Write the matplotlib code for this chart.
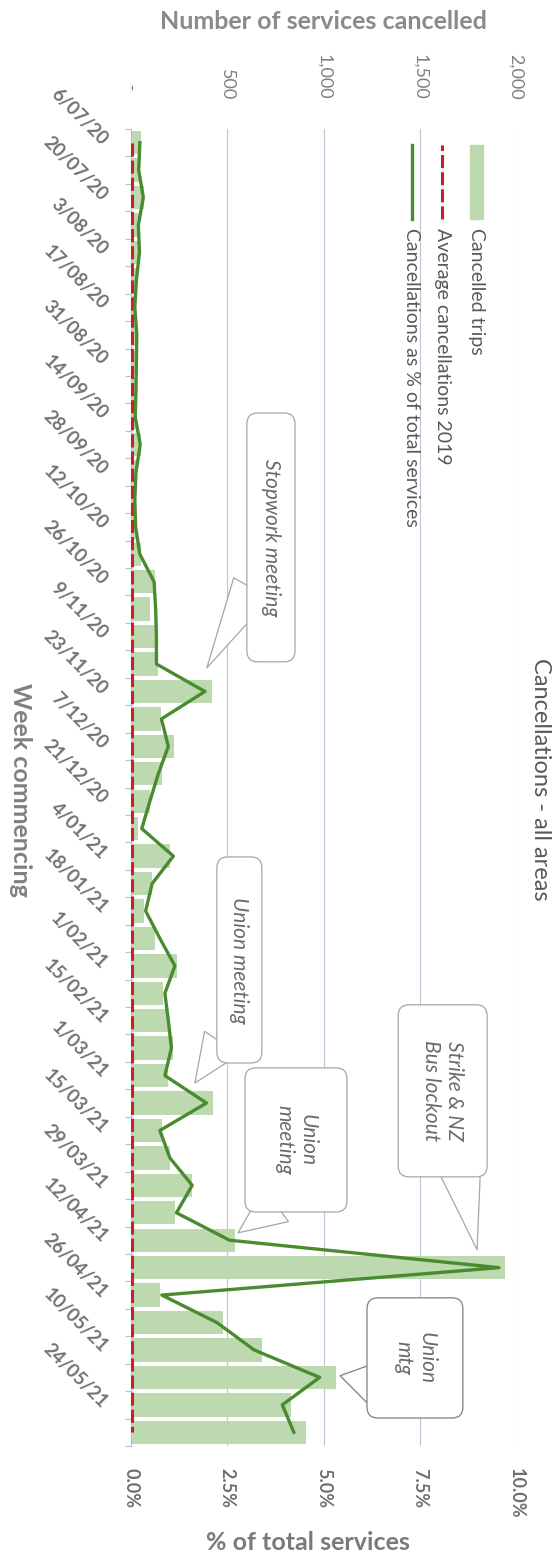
import numpy as np
import matplotlib.pyplot as plt
from matplotlib.patches import Rectangle, FancyBboxPatch
from matplotlib.lines import Line2D

# weekly cancellations, week commencing
weeks = ['6/07/20', '13/07/20', '20/07/20', '27/07/20', '3/08/20', '10/08/20',
         '17/08/20', '24/08/20', '31/08/20', '7/09/20', '14/09/20', '21/09/20',
         '28/09/20', '5/10/20', '12/10/20', '19/10/20', '26/10/20', '2/11/20',
         '9/11/20', '16/11/20', '23/11/20', '30/11/20', '7/12/20', '14/12/20',
         '21/12/20', '28/12/20', '4/01/21', '11/01/21', '18/01/21', '25/01/21',
         '1/02/21', '8/02/21', '15/02/21', '22/02/21', '1/03/21', '8/03/21',
         '15/03/21', '22/03/21', '29/03/21', '5/04/21', '12/04/21', '19/04/21',
         '26/04/21', '3/05/21', '10/05/21', '17/05/21', '24/05/21', '31/05/21']

cancelled = [50, 40, 68, 42, 45, 30, 22, 32, 30, 28, 24, 50, 28, 22,
             26, 50, 124, 98, 124, 140, 420, 155, 223, 161, 98, 36, 202,
             107, 69, 124, 237, 168, 190, 219, 193, 427, 159, 202, 318,
             228, 539, 1945, 150, 477, 680, 1064, 833, 910]

pct_cancelled = [0.23, 0.20, 0.32, 0.19, 0.22, 0.14, 0.10, 0.15, 0.14, 0.13,
                 0.11, 0.24, 0.13, 0.10, 0.12, 0.23, 0.60, 0.64, 0.66, 0.66,
                 1.92, 0.79, 0.97, 0.71, 0.49, 0.28, 1.10, 0.55, 0.38, 0.75,
                 1.14, 0.88, 0.97, 1.05, 0.88, 1.96, 0.75, 1.01, 1.59, 1.18,
                 2.56, 9.56, 0.80, 2.23, 3.20, 4.90, 3.93, 4.23]

avg_2019 = 5

count_ticks = [0, 500, 1000, 1500, 2000]
count_labels = [' -  ', '500', '1,000', '1,500', '2,000']
pct_ticks = [0, 2.5, 5, 7.5, 10]
pct_labels = ['0.0%', '2.5%', '5.0%', '7.5%', '10.0%']

bar_col = '#bcd9b0'
line_col = '#4b8b30'
red_col = '#c8202a'
grid_col = '#b8c6d6'

plt.rcParams['font.family'] = ['Lato', 'DejaVu Sans']

fig = plt.figure(figsize=(5.58, 15.56), dpi=100)
ax = fig.add_axes([131 / 558, 1 - 1446 / 1556, 385 / 558, 1317 / 1556])

y = np.arange(len(weeks))
ax.barh(y, cancelled, height=0.85, color=bar_col, zorder=2)
ax.plot([avg_2019] * len(weeks), y, color=red_col, lw=2.2, dashes=(4.3, 1.3), zorder=3)

# % line on its own axis, scale 0-10%
ax2 = ax.twiny()
ax2.plot(pct_cancelled, y, color=line_col, lw=2.4, zorder=4)

ax.set_xlim(0, 2000)
ax2.set_xlim(0, 10)
ax.set_ylim(len(weeks) - 0.5, -0.5)

# count axis on top
ax.xaxis.tick_top()
ax.set_xticks(count_ticks)
ax.set_xticklabels(count_labels)
ax.tick_params(axis='x', length=0, pad=21, labelsize=13, labelcolor='#7f7f7f',
               labelrotation=-90)
ax.grid(axis='x', color=grid_col, lw=0.8)
ax.set_axisbelow(True)

# % axis at bottom
ax2.xaxis.tick_bottom()
ax2.set_xticks(pct_ticks)
ax2.set_xticklabels(pct_labels, fontweight='bold')
ax2.tick_params(axis='x', length=0, pad=16, labelsize=13, labelcolor='#6f6f6f',
                labelrotation=-90)

# weeks, every second one labelled
ax.set_yticks(y[::2])
ax.set_yticklabels(weeks[::2])
ax.set_yticks(np.arange(-0.5, len(weeks), 1), minor=True)
ax.tick_params(axis='y', which='major', length=0, pad=19, labelsize=13.5,
               labelcolor='#727272')
ax.tick_params(axis='y', which='minor', length=4, width=0.8, color='#bfbfbf')
plt.setp(ax.get_yticklabels(), rotation=-45, ha='right', va='center',
         rotation_mode='anchor', fontweight='bold')

for a in (ax, ax2):
    for s in ('top', 'right', 'bottom'):
        a.spines[s].set_visible(False)
ax.spines['left'].set_color('#bfbfbf')
ax2.spines['left'].set_visible(False)

# legend, stacked sideways
ax.add_patch(Rectangle((0.880, 0.932), 0.034, 0.056, transform=ax.transAxes,
                       color=bar_col, clip_on=False))
ax.add_line(Line2D([0.808, 0.808], [0.932, 0.988], transform=ax.transAxes,
                   color=red_col, lw=2.2, dashes=(4.3, 1.3)))
ax2.add_line(Line2D([0.730, 0.730], [0.932, 0.988], transform=ax2.transAxes,
                    color=line_col, lw=2.4))
leg_items = [(0.897, 'Cancelled trips'),
             (0.810, 'Average cancellations 2019'),
             (0.729, 'Cancellations as % of total services')]
for lx, txt in leg_items:
    ax2.text(lx, 0.925, txt, transform=ax2.transAxes, rotation=-90,
             ha='center', va='top', fontsize=14, color='#595959')


def callout(text, x0, x1, y0, y1, base, tip, ec='#a6a6a6'):
    # rounded box in (%, week) coordinates with a wedge pointing at tip
    box = FancyBboxPatch((x0, y0), x1 - x0, y1 - y0,
                         boxstyle='round,pad=0,rounding_size=0.28',
                         mutation_aspect=1.4, fc='white', ec=ec, lw=0.9,
                         zorder=6)
    ax2.add_patch(box)
    ax2.annotate('', xy=tip, xytext=base, zorder=5,
                 arrowprops=dict(arrowstyle='wedge,tail_width=3.0,shrink_factor=0.5',
                                 fc='white', ec=ec, lw=0.9, shrinkA=0, shrinkB=0))
    ax2.text((x0 + x1) / 2, (y0 + y1) / 2, text, rotation=-90, ha='center',
             va='center', fontsize=15, style='italic', color='#6a6a6a',
             multialignment='center', zorder=7)


callout('Stopwork meeting', 3.01, 4.26, 9.85, 18.92, (3.14, 16.23), (1.97, 19.14))
callout('Union meeting', 2.23, 3.40, 26.03, 33.54, (2.36, 32.81), (1.66, 34.27))
callout('Union\nmeeting', 2.96, 5.61, 33.72, 38.97, (3.77, 38.71), (2.78, 39.73))
callout('Strike & NZ\nBus lockout', 6.94, 9.25, 31.42, 37.69, (8.55, 37.44), (8.99, 40.35))
callout('Union\nmtg', 6.13, 8.62, 42.10, 46.48, (6.26, 45.20), (5.43, 44.94),
        ec='#7f7f7f')

fig.text(0.579, 0.986, 'Number of services cancelled', ha='center', va='center',
         fontsize=18, fontweight='bold', color='#8a8a8a')
fig.text(0.552, 0.0085, '% of total services', ha='center', va='center',
         fontsize=18, fontweight='bold', color='#7a7a7a')
fig.text(0.036, 0.4923, 'Week commencing', rotation=-90, ha='center', va='center',
         fontsize=18, fontweight='bold', color='#808080')
fig.text(0.968, 0.4994, 'Cancellations - all areas', rotation=-90, ha='center',
         va='center', fontsize=17, color='#595959')

fig.savefig('out.png', dpi=100)
